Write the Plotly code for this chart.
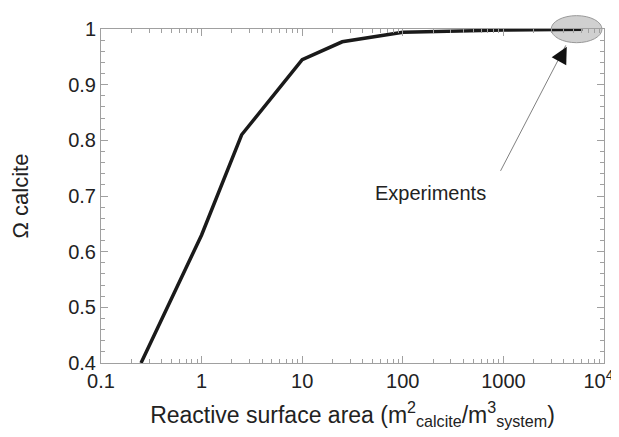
import plotly.graph_objects as go

# Data
surface_area = [0.25, 1, 2.5, 10, 25, 100, 1000, 6100]
omega_calcite = [0.40, 0.63, 0.81, 0.945, 0.977, 0.994, 0.998, 0.9995]

x_tickvals = [0.1, 1, 10, 100, 1000, 10000]
x_ticktext = ["0.1", "1", "10", "100", "1000", "10<sup>4</sup>&nbsp;&nbsp;"]
y_tickvals = [0.4, 0.5, 0.6, 0.7, 0.8, 0.9, 1.0]
y_ticktext = ["0.4", "0.5", "0.6", "0.7", "0.8", "0.9", "1"]

FONT = "Liberation Sans, Arial, sans-serif"
AX = "#a0a0a0"

fig = go.Figure()
fig.add_trace(go.Scatter(x=surface_area, y=omega_calcite, mode="lines",
                         line=dict(color="#1a1a1a", width=3.5), showlegend=False))

# page body has an 8px margin, so the figure is 8px smaller than the window
fig.update_layout(
    width=611, height=429,
    margin=dict(l=93, r=15, t=21, b=74),
    paper_bgcolor="white", plot_bgcolor="white",
    font=dict(family=FONT, color="#222", size=20),
)
fig.update_xaxes(
    type="log", range=[-1, 4], automargin=False,
    tickvals=x_tickvals, ticktext=x_ticktext,
    ticks="inside", ticklen=7, tickcolor=AX, tickwidth=1,
    showline=True, linecolor=AX, linewidth=1, mirror="ticks",
    showgrid=False, zeroline=False,
    minor=dict(ticks="inside", ticklen=4, tickcolor=AX, dtick="D1", showgrid=False),
    tickfont=dict(size=20), ticklabeloverflow="allow",
    title=dict(text="Reactive surface area (m<sup>2</sup><sub>calcite</sub>/m<sup>3</sup><sub>system</sub>)",
               font=dict(size=23)),
)
fig.update_yaxes(
    range=[0.4, 1], automargin=False,
    tickvals=y_tickvals, ticktext=y_ticktext,
    ticks="inside", ticklen=7, tickcolor=AX, tickwidth=1,
    showline=True, linecolor=AX, linewidth=1, mirror="ticks",
    showgrid=False, zeroline=False,
    minor=dict(ticks="inside", ticklen=4, tickcolor=AX, dtick=0.02, showgrid=False),
    tickfont=dict(size=20),
    title=dict(text="Ω calcite", font=dict(size=22), standoff=36),
)

# Highlight ellipse around the experiments
fig.add_shape(type="circle", xref="paper", yref="paper",
              x0=0.895, x1=0.996, y0=0.959, y1=1.040,
              fillcolor="#d0d0d0", line=dict(color="#999", width=1), layer="below")

# Arrow line (grey) and head (black)
fig.add_annotation(xref="paper", yref="paper", x=0.924, y=0.951,
                   ax=-66, ay=127, axref="pixel", ayref="pixel",
                   showarrow=True, arrowhead=0, arrowwidth=1, arrowcolor="#808080", text="")
fig.add_annotation(xref="paper", yref="paper", x=0.926, y=0.947,
                   ax=-7, ay=13, showarrow=True, arrowhead=2, arrowsize=2.2,
                   arrowwidth=1.5, arrowcolor="#111", text="")
fig.add_annotation(xref="paper", yref="paper", x=0.769, y=0.510,
                   text="Experiments", showarrow=False, font=dict(size=20, color="#222"))

fig.write_html("out.html")
